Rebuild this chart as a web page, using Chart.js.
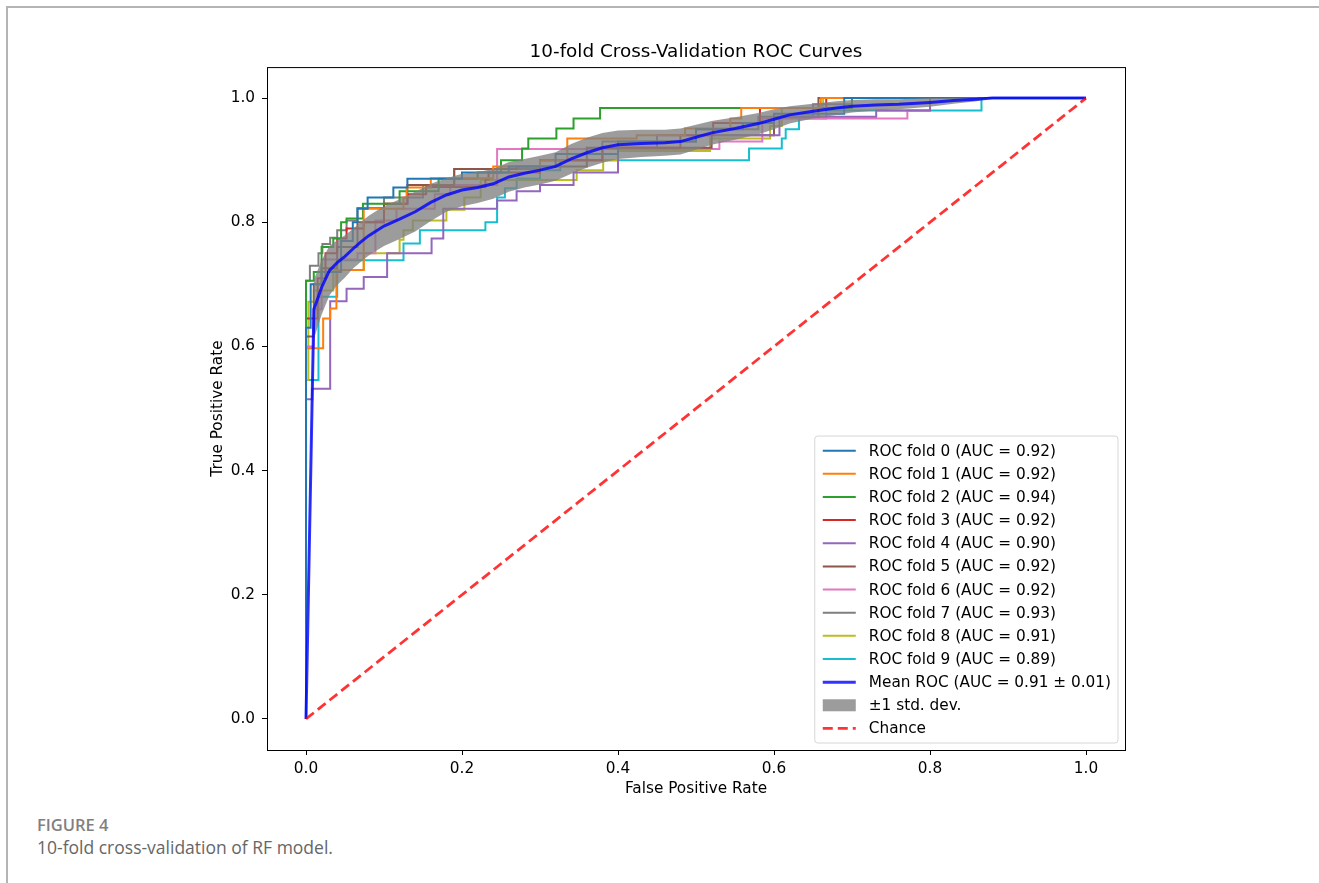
<!DOCTYPE html>
<html>
<head>
<meta charset="utf-8">
<script src="https://cdn.jsdelivr.net/npm/chart.js@4.4.0/dist/chart.umd.min.js"></script>
<style>
  html, body { margin: 0; padding: 0; background: #fff; }
  body { width: 1319px; height: 883px; position: relative; overflow: hidden; }
  .frame { position: absolute; left: 6px; top: 6px; right: 0; bottom: 0;
           border-top: 2px solid #b4b4b4; border-left: 2px solid #b4b4b4; }
  #wrap { position: absolute; left: 0; top: 0; width: 1319px; height: 810px; }
  .caption { position: absolute; left: 37px; top: 813px; font-family: 'Open Sans', sans-serif; }
  .caption .fig { font-size: 16.5px; font-weight: 600; color: #808080; }
  .caption .txt { font-size: 17.5px; color: #666; margin-top: -1px; }
</style>
</head>
<body>
<div class="frame"></div>
<div id="wrap"><canvas id="roc" width="1319" height="810"></canvas></div>
<div class="caption">
  <div class="fig">FIGURE 4</div>
  <div class="txt">10-fold cross-validation of RF model.</div>
</div>
<script>
  // Ticks
  const xTicks = [0, 0.2, 0.4, 0.6, 0.8, 1.0];
  const yTicks = [0, 0.2, 0.4, 0.6, 0.8, 1.0];

  // Couleurs (tab10) et AUC par fold
  const foldColors = ['#1f77b4', '#ff7f0e', '#2ca02c', '#d62728', '#9467bd',
                      '#8c564b', '#e377c2', '#7f7f7f', '#bcbd22', '#17becf'];
  const foldAuc = [0.92, 0.92, 0.94, 0.92, 0.90, 0.92, 0.92, 0.93, 0.91, 0.89];
  const meanAuc = 0.91;
  const stdAuc = 0.01;

  // Courbes ROC par fold : [fpr, tpr]
  const fold0 = [[0,0],[0,0.63],[0.006,0.63],[0.006,0.70],[0.02,0.70],[0.02,0.72],[0.045,0.72],[0.045,0.77],
    [0.06,0.77],[0.06,0.80],[0.066,0.80],[0.066,0.822],[0.079,0.822],[0.079,0.84],[0.112,0.84],[0.112,0.856],
    [0.13,0.856],[0.13,0.87],[0.2,0.87],[0.2,0.88],[0.26,0.88],[0.26,0.89],[0.32,0.89],[0.32,0.91],[0.4,0.91],
    [0.4,0.93],[0.5,0.93],[0.5,0.95],[0.56,0.95],[0.56,0.96],[0.6,0.96],[0.6,0.975],[0.69,0.975],[0.69,1],[1,1]];
  const fold1 = [[0,0],[0,0.597],[0.022,0.597],[0.022,0.645],[0.031,0.645],[0.031,0.661],[0.039,0.661],
    [0.039,0.723],[0.074,0.723],[0.074,0.822],[0.125,0.822],[0.125,0.84],[0.129,0.84],[0.129,0.856],
    [0.16,0.856],[0.16,0.871],[0.24,0.871],[0.24,0.89],[0.3,0.89],[0.3,0.90],[0.335,0.90],[0.335,0.935],
    [0.424,0.935],[0.424,0.94],[0.486,0.94],[0.486,0.951],[0.544,0.951],[0.544,0.967],[0.558,0.967],
    [0.558,0.984],[0.66,0.984],[0.66,1],[1,1]];
  const fold2 = [[0,0],[0,0.706],[0.01,0.706],[0.01,0.72],[0.02,0.72],[0.02,0.76],[0.035,0.76],[0.035,0.774],
    [0.045,0.774],[0.045,0.80],[0.052,0.80],[0.052,0.806],[0.073,0.806],[0.073,0.83],[0.12,0.83],[0.12,0.85],
    [0.17,0.85],[0.17,0.87],[0.22,0.87],[0.22,0.88],[0.25,0.88],[0.25,0.90],[0.277,0.90],[0.277,0.919],
    [0.285,0.919],[0.285,0.935],[0.321,0.935],[0.321,0.951],[0.343,0.951],[0.343,0.967],[0.377,0.967],
    [0.377,0.984],[0.70,0.984],[0.70,1],[1,1]];
  const fold3 = [[0,0],[0,0.645],[0.015,0.645],[0.015,0.71],[0.025,0.71],[0.025,0.75],[0.04,0.75],[0.04,0.774],
    [0.052,0.774],[0.052,0.79],[0.074,0.79],[0.074,0.80],[0.1,0.80],[0.1,0.83],[0.13,0.83],[0.13,0.845],
    [0.154,0.845],[0.154,0.857],[0.23,0.857],[0.23,0.869],[0.234,0.869],[0.234,0.88],[0.3,0.88],[0.3,0.9],
    [0.38,0.9],[0.38,0.92],[0.48,0.92],[0.48,0.94],[0.522,0.94],[0.522,0.96],[0.582,0.96],[0.582,0.984],
    [0.667,0.984],[0.667,1],[1,1]];
  const fold4 = [[0,0],[0,0.515],[0.008,0.515],[0.008,0.532],[0.031,0.532],[0.031,0.673],[0.052,0.673],
    [0.052,0.693],[0.074,0.693],[0.074,0.712],[0.104,0.712],[0.104,0.75],[0.161,0.75],[0.161,0.774],
    [0.176,0.774],[0.176,0.822],[0.245,0.822],[0.245,0.835],[0.27,0.835],[0.27,0.85],[0.3,0.85],[0.3,0.86],
    [0.343,0.86],[0.343,0.88],[0.40,0.88],[0.40,0.92],[0.45,0.92],[0.45,0.94],[0.607,0.94],[0.607,0.97],
    [0.731,0.97],[0.731,0.98],[0.8,0.98],[0.8,1],[1,1]];
  const fold5 = [[0,0],[0,0.616],[0.01,0.616],[0.01,0.70],[0.02,0.70],[0.02,0.726],[0.04,0.726],[0.04,0.76],
    [0.066,0.76],[0.066,0.80],[0.1,0.80],[0.1,0.83],[0.13,0.83],[0.13,0.86],[0.19,0.86],[0.19,0.886],[0.27,0.886],
    [0.27,0.89],[0.36,0.89],[0.36,0.92],[0.52,0.92],[0.52,0.94],[0.6,0.94],[0.6,0.97],[0.657,0.97],[0.657,1],[1,1]];
  const fold6 = [[0,0],[0,0.6],[0.01,0.6],[0.01,0.66],[0.02,0.66],[0.02,0.74],[0.066,0.74],[0.066,0.75],
    [0.089,0.75],[0.089,0.803],[0.116,0.803],[0.116,0.822],[0.165,0.822],[0.165,0.845],[0.185,0.845],
    [0.185,0.86],[0.245,0.86],[0.245,0.918],[0.53,0.918],[0.53,0.93],[0.585,0.93],[0.585,0.967],[0.771,0.967],
    [0.771,0.98],[0.8,0.98],[0.8,1],[1,1]];
  const fold7 = [[0,0],[0,0.706],[0.005,0.706],[0.005,0.73],[0.016,0.73],[0.016,0.75],[0.021,0.75],
    [0.021,0.765],[0.031,0.765],[0.031,0.775],[0.04,0.775],[0.04,0.787],[0.052,0.787],[0.052,0.803],
    [0.066,0.803],[0.066,0.823],[0.1,0.823],[0.1,0.84],[0.15,0.84],[0.15,0.86],[0.19,0.86],[0.19,0.886],
    [0.3,0.886],[0.3,0.90],[0.38,0.90],[0.38,0.93],[0.5,0.93],[0.5,0.95],[0.58,0.95],[0.58,0.97],[0.65,0.97],
    [0.65,0.99],[0.7,0.99],[0.7,1],[1,1]];
  const fold8 = [[0,0],[0,0.546],[0.003,0.546],[0.003,0.672],[0.01,0.672],[0.01,0.69],[0.035,0.69],
    [0.035,0.723],[0.074,0.723],[0.074,0.75],[0.12,0.75],[0.12,0.772],[0.125,0.772],[0.125,0.787],
    [0.137,0.787],[0.137,0.803],[0.18,0.803],[0.18,0.82],[0.203,0.82],[0.203,0.84],[0.224,0.84],[0.224,0.868],
    [0.347,0.868],[0.347,0.884],[0.381,0.884],[0.381,0.90],[0.40,0.90],[0.40,0.915],[0.518,0.915],
    [0.518,0.935],[0.595,0.935],[0.595,0.955],[0.61,0.955],[0.61,0.984],[0.663,0.984],[0.663,1],[1,1]];
  const fold9 = [[0,0],[0,0.546],[0.016,0.546],[0.016,0.68],[0.04,0.68],[0.04,0.739],[0.125,0.739],
    [0.125,0.766],[0.146,0.766],[0.146,0.787],[0.23,0.787],[0.23,0.80],[0.245,0.80],[0.245,0.84],[0.255,0.84],
    [0.255,0.855],[0.27,0.855],[0.27,0.87],[0.30,0.87],[0.30,0.884],[0.326,0.884],[0.326,0.90],[0.568,0.90],
    [0.568,0.919],[0.61,0.919],[0.61,0.935],[0.615,0.935],[0.615,0.95],[0.632,0.95],[0.632,0.967],[0.667,0.967],
    [0.667,0.98],[0.866,0.98],[0.866,1],[1,1]];
  const folds = [fold0, fold1, fold2, fold3, fold4, fold5, fold6, fold7, fold8, fold9];

  // ROC moyenne et écart-type
  const meanFpr = [0, 0.0101, 0.02, 0.03, 0.04, 0.05, 0.06, 0.07, 0.08, 0.09,
    0.10, 0.12, 0.14, 0.16, 0.18, 0.20, 0.22, 0.24, 0.26, 0.28,
    0.30, 0.32, 0.34, 0.36, 0.38, 0.40, 0.43, 0.46, 0.48, 0.50,
    0.52, 0.55, 0.58, 0.60, 0.62, 0.65, 0.68, 0.70, 0.73, 0.76,
    0.80, 0.83, 0.86, 0.88, 1.0];
  const meanTpr = [0, 0.66, 0.695, 0.722, 0.735, 0.745, 0.757, 0.768, 0.778, 0.786,
    0.794, 0.805, 0.817, 0.832, 0.844, 0.852, 0.856, 0.862, 0.873, 0.879,
    0.884, 0.89, 0.902, 0.912, 0.92, 0.925, 0.927, 0.928, 0.93, 0.937,
    0.944, 0.951, 0.959, 0.966, 0.973, 0.979, 0.984, 0.987, 0.989, 0.990,
    0.993, 0.996, 0.998, 1.0, 1.0];
  const stdTpr = [0, 0.048, 0.044, 0.04, 0.036, 0.034, 0.032, 0.032, 0.032, 0.032,
    0.032, 0.032, 0.032, 0.03, 0.027, 0.026, 0.025, 0.024, 0.024, 0.023,
    0.023, 0.023, 0.024, 0.024, 0.024, 0.023, 0.022, 0.021, 0.021, 0.02,
    0.019, 0.018, 0.017, 0.016, 0.014, 0.012, 0.011, 0.01, 0.009, 0.008,
    0.007, 0.005, 0.003, 0, 0];

  const chanceFpr = [0, 1];
  const chanceTpr = [0, 1];

  const FONT = "'DejaVu Sans', sans-serif";
  const BASE = 15.3;

  // Datasets
  const datasets = folds.map((pts, i) => ({
    label: `ROC fold ${i} (AUC = ${foldAuc[i].toFixed(2)})`,
    data: pts.map(p => ({ x: p[0], y: p[1] })),
    borderColor: foldColors[i],
    borderWidth: 2,
    order: 10
  }));

  datasets.push({
    label: `Mean ROC (AUC = ${meanAuc.toFixed(2)} \u00b1 ${stdAuc.toFixed(2)})`,
    data: meanFpr.map((x, i) => ({ x, y: meanTpr[i] })),
    borderColor: 'rgba(0,0,255,0.8)',
    borderWidth: 3,
    order: 2
  });

  datasets.push({
    label: '\u00b11 std. dev.',
    data: meanFpr.map((x, i) => ({ x, y: Math.min(meanTpr[i] + stdTpr[i], 1) })),
    borderWidth: 0,
    borderColor: 'rgba(0,0,0,0)',
    backgroundColor: 'rgba(128,128,128,0.78)',
    fill: '+1',
    isBand: true,
    order: 5
  });
  datasets.push({
    label: '',
    data: meanFpr.map((x, i) => ({ x, y: Math.max(meanTpr[i] - stdTpr[i], 0) })),
    borderWidth: 0,
    borderColor: 'rgba(0,0,0,0)',
    fill: false,
    hideInLegend: true,
    order: 5
  });

  datasets.push({
    label: 'Chance',
    data: chanceFpr.map((x, i) => ({ x, y: chanceTpr[i] })),
    borderColor: 'rgba(255,0,0,0.8)',
    borderWidth: 2.8,
    borderDash: [10, 5],
    order: 1
  });

  // Cadre complet autour de la zone de tracé
  const frameBox = {
    id: 'frameBox',
    beforeDatasetsDraw(chart) {
      const { ctx, chartArea: a } = chart;
      ctx.save();
      ctx.strokeStyle = '#000';
      ctx.lineWidth = 1;
      ctx.strokeRect(a.left + 0.5, a.top + 0.5, a.right - a.left, a.bottom - a.top);
      ctx.restore();
    }
  };

  // Légende dessinée dans le coin bas droit
  const legendBox = {
    id: 'legendBox',
    afterDraw(chart) {
      const { ctx, chartArea: a } = chart;
      const items = chart.data.datasets.filter(d => !d.hideInLegend);
      const rowH = 23.15;
      ctx.save();
      ctx.font = BASE + 'px ' + FONT;
      const textW = Math.max(...items.map(d => ctx.measureText(d.label).width));
      const w = 54 + textW + 7;
      const h = items.length * rowH + 6;
      const right = a.right - 7;
      const bottom = a.bottom - 7;
      const left = right - w;
      const top = bottom - h;

      ctx.beginPath();
      ctx.roundRect(left, top, w, h, 3);
      ctx.fillStyle = 'rgba(255,255,255,0.8)';
      ctx.fill();
      ctx.strokeStyle = '#d6d6d6';
      ctx.lineWidth = 1;
      ctx.stroke();

      items.forEach((d, i) => {
        const y = top + 3 + rowH * (i + 0.5);
        if (d.isBand) {
          ctx.fillStyle = d.backgroundColor;
          ctx.fillRect(left + 8, y - 6, 33, 12);
        } else {
          ctx.beginPath();
          ctx.setLineDash(d.borderDash || []);
          ctx.strokeStyle = d.borderColor;
          ctx.lineWidth = d.borderWidth;
          ctx.moveTo(left + 8, y);
          ctx.lineTo(left + 41, y);
          ctx.stroke();
          ctx.setLineDash([]);
        }
        ctx.fillStyle = '#000';
        ctx.textBaseline = 'middle';
        ctx.textAlign = 'left';
        ctx.fillText(d.label, left + 54, y + 1);
      });
      ctx.restore();
    }
  };

  const tickFont = { family: FONT, size: BASE };

  new Chart(document.getElementById('roc'), {
    type: 'line',
    data: { datasets },
    options: {
      responsive: false,
      animation: false,
      layout: { padding: { left: 0, right: 194, top: 0, bottom: 0 } },
      elements: {
        point: { radius: 0 },
        line: { tension: 0 }
      },
      plugins: {
        legend: { display: false },
        tooltip: { enabled: false },
        title: {
          display: true,
          fullSize: false,
          text: '10-fold Cross-Validation ROC Curves',
          color: '#000',
          font: { family: FONT, size: 18.4, weight: 'normal' },
          padding: { top: 41, bottom: 4 }
        }
      },
      scales: {
        x: {
          type: 'linear',
          min: -0.05,
          max: 1.05,
          afterBuildTicks: s => { s.ticks = xTicks.map(v => ({ value: v })); },
          afterFit: s => { s.height = 60; },
          border: { display: false },
          grid: { display: true, drawOnChartArea: false, drawTicks: true, tickLength: 5, color: '#000' },
          ticks: { color: '#000', font: tickFont, padding: 5, maxRotation: 0,
                   callback: v => v.toFixed(1) },
          title: { display: true, text: 'False Positive Rate', color: '#000',
                   font: tickFont, padding: { top: 0, bottom: 11.8 } }
        },
        y: {
          type: 'linear',
          min: -0.05,
          max: 1.05,
          afterBuildTicks: s => { s.ticks = yTicks.map(v => ({ value: v })); },
          afterFit: s => { s.width = 267; },
          border: { display: false },
          grid: { display: true, drawOnChartArea: false, drawTicks: true, tickLength: 5, color: '#000' },
          ticks: { color: '#000', font: tickFont, padding: 7,
                   callback: v => v.toFixed(1) },
          title: { display: true, text: 'True Positive Rate', color: '#000',
                   font: tickFont, padding: { top: 208.8, bottom: 0 } }
        }
      }
    },
    plugins: [frameBox, legendBox]
  });
</script>
</body>
</html>
